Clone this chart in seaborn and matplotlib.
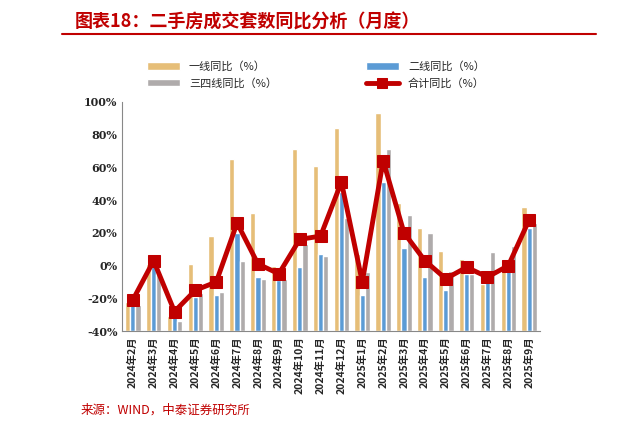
import numpy as np
import matplotlib.pyplot as plt
import seaborn as sns

months = ['2024年2月', '2024年3月', '2024年4月', '2024年5月', '2024年6月', '2024年7月', '2024年8月',
          '2024年9月', '2024年10月', '2024年11月', '2024年12月', '2025年1月', '2025年2月', '2025年3月',
          '2025年4月', '2025年5月', '2025年6月', '2025年7月', '2025年8月', '2025年9月']
tier1 = [-22, 1, -31, 1, 18, 65, 32, 0, 71, 61, 84, 7, 93, 38, 23, 9, 4, -11, 3, 36]
tier2 = [-24, 0, -31, -19, -18, 20, -7, -9, -1, 7, 45, -18, 51, 11, -7, -15, -5, -9, -3, 23]
tier34 = [-24, -5, -34, -17, -16, 3, -8, -8, 13, 6, 29, -4, 71, 31, 20, -3, -5, 8, 12, 26]
total = [-21, 3, -28, -15, -10, 26, 1, -5, 16, 18, 51, -10, 64, 20, 3, -8, -1, -7, 0, 28]

sns.set_style('white')
plt.rcParams['font.family'] = ['Noto Sans CJK SC', 'DejaVu Sans']

fig = plt.figure(figsize=(6.21, 4.29), dpi=100)
ax = fig.add_axes([0.197, 0.228, 0.672, 0.535])

base = -40
x = np.arange(len(months))
w = 0.25
# bars start from the bottom of the axis, as in the original Excel chart
ax.bar(x - w, np.array(tier1) - base, w, bottom=base, color='#E6BE78', label='一线同比（%）')
ax.bar(x, np.array(tier2) - base, w, bottom=base, color='#5B9BD5', label='二线同比（%）')
ax.bar(x + w, np.array(tier34) - base, w, bottom=base, color='#AFABAB', label='三四线同比（%）')
sns.lineplot(x=x, y=total, ax=ax, color='#C00000', lw=3.5, marker='s', markersize=9,
             markeredgecolor='#C00000', label='合计同比（%）')

ax.set_ylim(-40, 100)
ax.set_xlim(-0.5, len(months) - 0.5)
ax.set_yticks(range(-40, 101, 20))
ax.set_yticklabels([f'{v}%' for v in range(-40, 101, 20)], fontsize=8, fontweight='bold', family='DejaVu Serif')
ax.set_xticks(x)
ax.set_xticklabels(months, rotation=90, fontsize=7.5, fontweight='bold')
for s in ['top', 'right']:
    ax.spines[s].set_visible(False)
for s in ['left', 'bottom']:
    ax.spines[s].set_color('#888888')
ax.tick_params(axis='both', length=3, color='#888888', direction='in')

h, l = ax.get_legend_handles_labels()
order = [1, 3, 2, 0]
fig.legend([h[i] for i in order], [l[i] for i in order], loc='upper left', bbox_to_anchor=(0.22, 0.88),
           ncol=2, frameon=False, fontsize=8, columnspacing=8, handlelength=3, markerscale=0.8)
ax.get_legend().remove()

fig.text(0.12, 0.935, '图表18：二手房成交套数同比分析（月度）', color='#C00000', fontsize=13,
         fontweight='bold', style='italic')
fig.add_artist(plt.Line2D([0.1, 0.96], [0.92, 0.92], color='#C00000', lw=1.5))
fig.text(0.13, 0.035, '来源：WIND，中泰证券研究所', color='#C00000', fontsize=9)

fig.savefig('out.png', dpi=100)
